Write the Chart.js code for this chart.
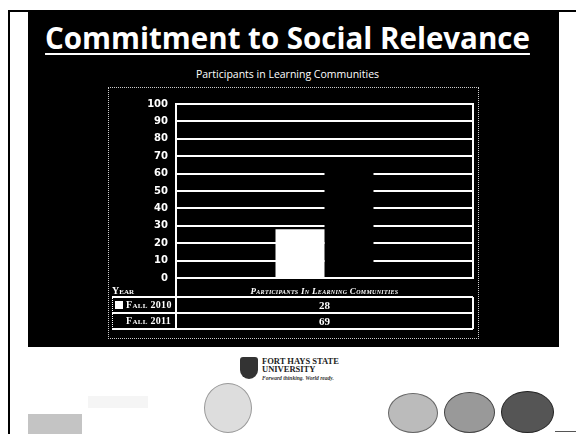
<!DOCTYPE html>
<html>
<head>
<meta charset="utf-8">
<script src="https://cdn.jsdelivr.net/npm/chart.js@4"></script>
<style>
html,body{margin:0;padding:0;background:#fff;width:576px;height:434px;overflow:hidden;}
#page{position:relative;width:576px;height:434px;}
.abs{position:absolute;}
#slide{left:28px;top:12px;width:531px;height:335px;background:#000;}
#title{left:22px;top:18px;width:531px;text-align:center;color:#fff;font-family:"Open Sans",sans-serif;font-weight:700;font-size:29.5px;line-height:40px;text-decoration:underline;text-decoration-thickness:2px;text-underline-offset:4px;}
#subtitle{left:22px;top:67px;width:531px;text-align:center;color:#fff;font-family:"Open Sans",sans-serif;font-size:10.5px;line-height:14px;}
#box{left:108px;top:87px;width:369px;height:250px;border:1px dotted #ccc;}
#chartwrap{left:108px;top:87px;width:370px;height:251px;}
.tbl{color:#fff;font-family:"Liberation Serif",serif;font-weight:700;font-variant:small-caps;white-space:nowrap;}
</style>
</head>
<body>
<div id="page">
  <div class="abs" style="left:8px;top:10px;width:2px;height:424px;background:#000"></div>
  <div class="abs" style="left:8px;top:10px;width:568px;height:2px;background:#000"></div>
  <div id="slide" class="abs"></div>
  <div id="title" class="abs">Commitment to Social Relevance</div>
  <div id="subtitle" class="abs">Participants in Learning Communities</div>
  <div id="box" class="abs"></div>
  <div id="chartwrap" class="abs"><canvas id="c" width="370" height="251"></canvas></div>
  <div id="table"></div>

  <!-- footer -->
  <div class="abs" style="left:240px;top:357px;width:18px;height:22px;background:#333;border-radius:3px 3px 9px 9px"></div>
  <div class="abs" style="left:262px;top:357px;font-family:'Liberation Serif',serif;font-weight:700;font-size:8.5px;line-height:8px;color:#222">FORT HAYS STATE<br>UNIVERSITY</div>
  <div class="abs" style="left:262px;top:375px;font-family:'Liberation Serif',serif;font-style:italic;font-weight:700;font-size:5.5px;color:#333">Forward thinking. World ready.</div>
  <div class="abs" style="left:204px;top:383px;width:46px;height:48px;border-radius:50%;background:#ddd;border:1px solid #999"></div>
  <div class="abs" style="left:388px;top:393px;width:48px;height:38px;border-radius:50%;background:#bbb;border:1px solid #666"></div>
  <div class="abs" style="left:444px;top:392px;width:49px;height:39px;border-radius:50%;background:#999;border:1px solid #444"></div>
  <div class="abs" style="left:501px;top:391px;width:51px;height:40px;border-radius:50%;background:#555;border:1px solid #222"></div>
  <div class="abs" style="left:28px;top:414px;width:54px;height:20px;background:#c4c4c4"></div>
  <div class="abs" style="left:88px;top:396px;width:60px;height:12px;background:#f5f5f5"></div>
  <div class="abs" style="left:555px;top:431px;width:21px;height:1px;background:#555"></div>
</div>
<script>
// ---- data ----
const categories = ['Participants In Learning Communities'];
const seriesNames = ['Fall 2010', 'Fall 2011'];
const fall2010 = [28];
const fall2011 = [69];
const yTicks = [0, 10, 20, 30, 40, 50, 60, 70, 80, 90, 100];
const tableHeaderLeft = 'Year';

const seriesValues = [fall2010, fall2011];
const seriesColors = ['#ffffff', '#000000'];

const framePlugin = {
  id: 'frame',
  beforeDatasetsDraw(chart) {
    const a = chart.chartArea, ctx = chart.ctx;
    ctx.save();
    ctx.strokeStyle = '#fff';
    ctx.lineWidth = 2;
    ctx.strokeRect(a.left, a.top, a.right - a.left, a.bottom - a.top);
    ctx.restore();
  }
};

const chart = new Chart(document.getElementById('c'), {
  type: 'bar',
  data: {
    labels: categories,
    datasets: seriesNames.map((n, i) => ({
      label: n,
      data: seriesValues[i],
      backgroundColor: seriesColors[i],
      borderWidth: 0,
      categoryPercentage: 0.33,
      barPercentage: 1.0
    }))
  },
  options: {
    responsive: false,
    animation: false,
    layout: { padding: { left: 0, right: 5, top: 17, bottom: 60 } },
    plugins: { legend: { display: false }, title: { display: false }, tooltip: { enabled: false } },
    scales: {
      x: { display: false },
      y: {
        min: 0, max: 100,
        afterFit: s => { s.width = 68; },
        afterBuildTicks: s => { s.ticks = yTicks.map(v => ({ value: v })); },
        ticks: { color: '#fff', padding: 8, font: { family: 'DejaVu Sans', weight: 'bold', size: 10 } },
        grid: { color: '#fff', lineWidth: 2, drawTicks: false },
        border: { display: true, color: '#fff', width: 2 }
      }
    }
  },
  plugins: [framePlugin]
});

// ---- data table (built from the arrays and the chart's layout) ----
(function buildTable() {
  const t = document.getElementById('table');
  const a = chart.chartArea;
  const ox = 108, oy = 87;
  const left = 112, mid = ox + a.left, right = ox + a.right;
  const top = oy + a.bottom;
  const rowsTop = top + 19, rowH = 16;
  const add = (html, style, cls) => { const d = document.createElement('div'); d.className = 'abs' + (cls ? ' ' + cls : ''); d.style.cssText = style; d.innerHTML = html; t.appendChild(d); return d; };
  add(tableHeaderLeft, `left:${left}px;top:${top + 7}px;font-size:10px;line-height:12px`, 'tbl');
  add(categories[0], `left:${mid}px;width:${right - mid}px;top:${top + 7}px;text-align:center;font-size:9px;line-height:12px;font-style:italic;letter-spacing:0.3px`, 'tbl');
  for (let i = 0; i <= seriesNames.length; i++) {
    add('', `left:${left}px;top:${rowsTop + i * rowH - 1}px;width:${right - left}px;height:1.5px;background:#fff`);
  }
  add('', `left:${left}px;top:${rowsTop}px;width:1px;height:${rowH * seriesNames.length}px;border-left:1px dotted #fff`);
  add('', `left:${mid - 1}px;top:${top}px;width:1.5px;height:${rowsTop - top + rowH * seriesNames.length}px;background:#fff`);
  add('', `left:${right - 1}px;top:${rowsTop}px;width:1.5px;height:${rowH * seriesNames.length}px;background:#fff`);
  seriesNames.forEach((n, i) => {
    const y = rowsTop + i * rowH;
    add('', `left:${left + 3}px;top:${y + 4}px;width:8px;height:8px;background:${seriesColors[i]}`);
    add(n, `left:${left + 14}px;top:${y + 2}px;font-size:10px;line-height:12px;letter-spacing:0.3px`, 'tbl');
    add(String(seriesValues[i][0]), `left:${mid}px;width:${right - mid}px;top:${y + 2}px;text-align:center;font-size:11px;line-height:12px`, 'tbl');
  });
})();
</script>
</body>
</html>
